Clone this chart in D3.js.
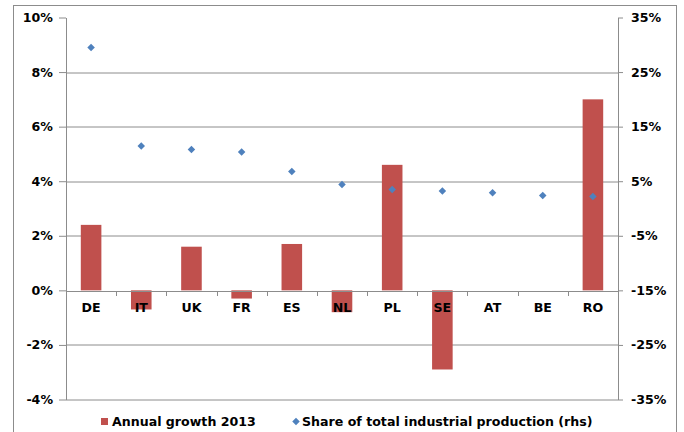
<!DOCTYPE html>
<html>
<head>
<meta charset="utf-8">
<script src="https://cdn.jsdelivr.net/npm/d3@7/dist/d3.min.js"></script>
<style>
  body { margin: 0; background: #fff; }
  text { font-family: "DejaVu Sans", Verdana, sans-serif; font-weight: bold; fill: #000; }
</style>
</head>
<body>
<div id="plot"></div>
<script>
// chart data
const countries = ["DE", "IT", "UK", "FR", "ES", "NL", "PL", "SE", "AT", "BE", "RO"];
const annualGrowth = [2.4, -0.7, 1.6, -0.3, 1.7, -0.8, 4.6, -2.9, 0, 0, 7.0];
const shareOfProduction = [29.5, 11.45, 10.8, 10.35, 6.8, 4.4, 3.5, 3.2, 2.9, 2.4, 2.2];
const leftTicks = [-4, -2, 0, 2, 4, 6, 8, 10];
const rightTicks = [-35, -25, -15, -5, 5, 15, 25, 35];
const legendLabels = ["Annual growth 2013", "Share of total industrial production (rhs)"];

const W = 684, H = 432;
const margin = { top: 17.5, right: 66, bottom: 32.5, left: 66 };
const width = W - margin.left - margin.right;
const height = H - margin.top - margin.bottom;
const fontSize = "12.6px";

const svg = d3.select("div#plot")
  .append("svg")
  .attr("width", W)
  .attr("height", H);

// outer chart border
svg.append("rect")
  .attr("x", 13.5).attr("y", 5.5)
  .attr("width", 663).attr("height", 440)
  .attr("fill", "none")
  .attr("stroke", "#8c8c8c");

const g = svg.append("g")
  .attr("transform", `translate(${margin.left},${margin.top})`);

const x = d3.scaleBand()
  .domain(countries)
  .range([0, width]);

const yLeft = d3.scaleLinear().domain([-4, 10]).range([height, 0]);
const yRight = d3.scaleLinear().domain([-35, 35]).range([height, 0]);

const grey = "#8c8c8c";

// gridlines (no top one)
g.selectAll(".grid")
  .data(leftTicks.filter(d => d !== 10 && d !== 0))
  .enter().append("line")
  .attr("x1", 0).attr("x2", width)
  .attr("y1", d => Math.round(yLeft(d)) + 0.5)
  .attr("y2", d => Math.round(yLeft(d)) + 0.5)
  .attr("stroke", grey);

// left axis
const leftAxis = g.append("g")
  .call(d3.axisLeft(yLeft).tickValues(leftTicks).tickSize(7).tickSizeOuter(0).tickPadding(6)
    .tickFormat(d => d + "%"));
leftAxis.select(".domain").attr("stroke", grey);
leftAxis.selectAll(".tick line").attr("stroke", grey);
leftAxis.selectAll("text").style("font-size", fontSize);

// right axis
const rightAxis = g.append("g")
  .attr("transform", `translate(${width},0)`)
  .call(d3.axisRight(yRight).tickValues(rightTicks).tickSize(5).tickSizeOuter(0).tickPadding(8)
    .tickFormat(d => d + "%"));
rightAxis.select(".domain").attr("stroke", grey);
rightAxis.selectAll(".tick line").attr("stroke", grey);
rightAxis.selectAll("text").style("font-size", fontSize);

// bars
const barW = x.bandwidth() * 0.41;
g.selectAll(".bar")
  .data(countries)
  .enter().append("rect")
  .attr("class", "bar")
  .attr("x", (d, i) => x(d) + (x.bandwidth() - barW) / 2)
  .attr("width", barW)
  .attr("y", (d, i) => yLeft(Math.max(0, annualGrowth[i])))
  .attr("height", (d, i) => Math.abs(yLeft(annualGrowth[i]) - yLeft(0)))
  .attr("fill", "#C0504D");

// x axis at zero
const xAxis = g.append("g")
  .attr("transform", `translate(0,${Math.round(yLeft(0)) + 0.5})`)
  .call(d3.axisBottom(x).tickSize(0).tickPadding(12));
xAxis.select(".domain").attr("stroke", grey);
xAxis.selectAll("text").style("font-size", fontSize);
// category separator ticks
xAxis.selectAll(".sep")
  .data(countries.slice(1))
  .enter().append("line")
  .attr("x1", d => Math.round(x(d)) + 0.5)
  .attr("x2", d => Math.round(x(d)) + 0.5)
  .attr("y1", 0).attr("y2", 5)
  .attr("stroke", grey);

// diamonds
const diamond = d3.symbol().type(d3.symbolDiamond2).size(36);
g.selectAll(".pt")
  .data(countries)
  .enter().append("path")
  .attr("transform", (d, i) => `translate(${x(d) + x.bandwidth() / 2},${yRight(shareOfProduction[i])})`)
  .attr("d", diamond)
  .attr("fill", "#4F81BD");

// legend
const legend = svg.append("g");
legend.append("rect")
  .attr("x", 101).attr("y", 418).attr("width", 7).attr("height", 7)
  .attr("fill", "#C0504D");
legend.append("text")
  .attr("x", 112).attr("y", 426)
  .style("font-size", fontSize)
  .text(legendLabels[0]);
legend.append("path")
  .attr("transform", "translate(296,421.5)")
  .attr("d", diamond)
  .attr("fill", "#4F81BD");
legend.append("text")
  .attr("x", 302).attr("y", 426)
  .style("font-size", fontSize)
  .text(legendLabels[1]);
</script>
</body>
</html>
